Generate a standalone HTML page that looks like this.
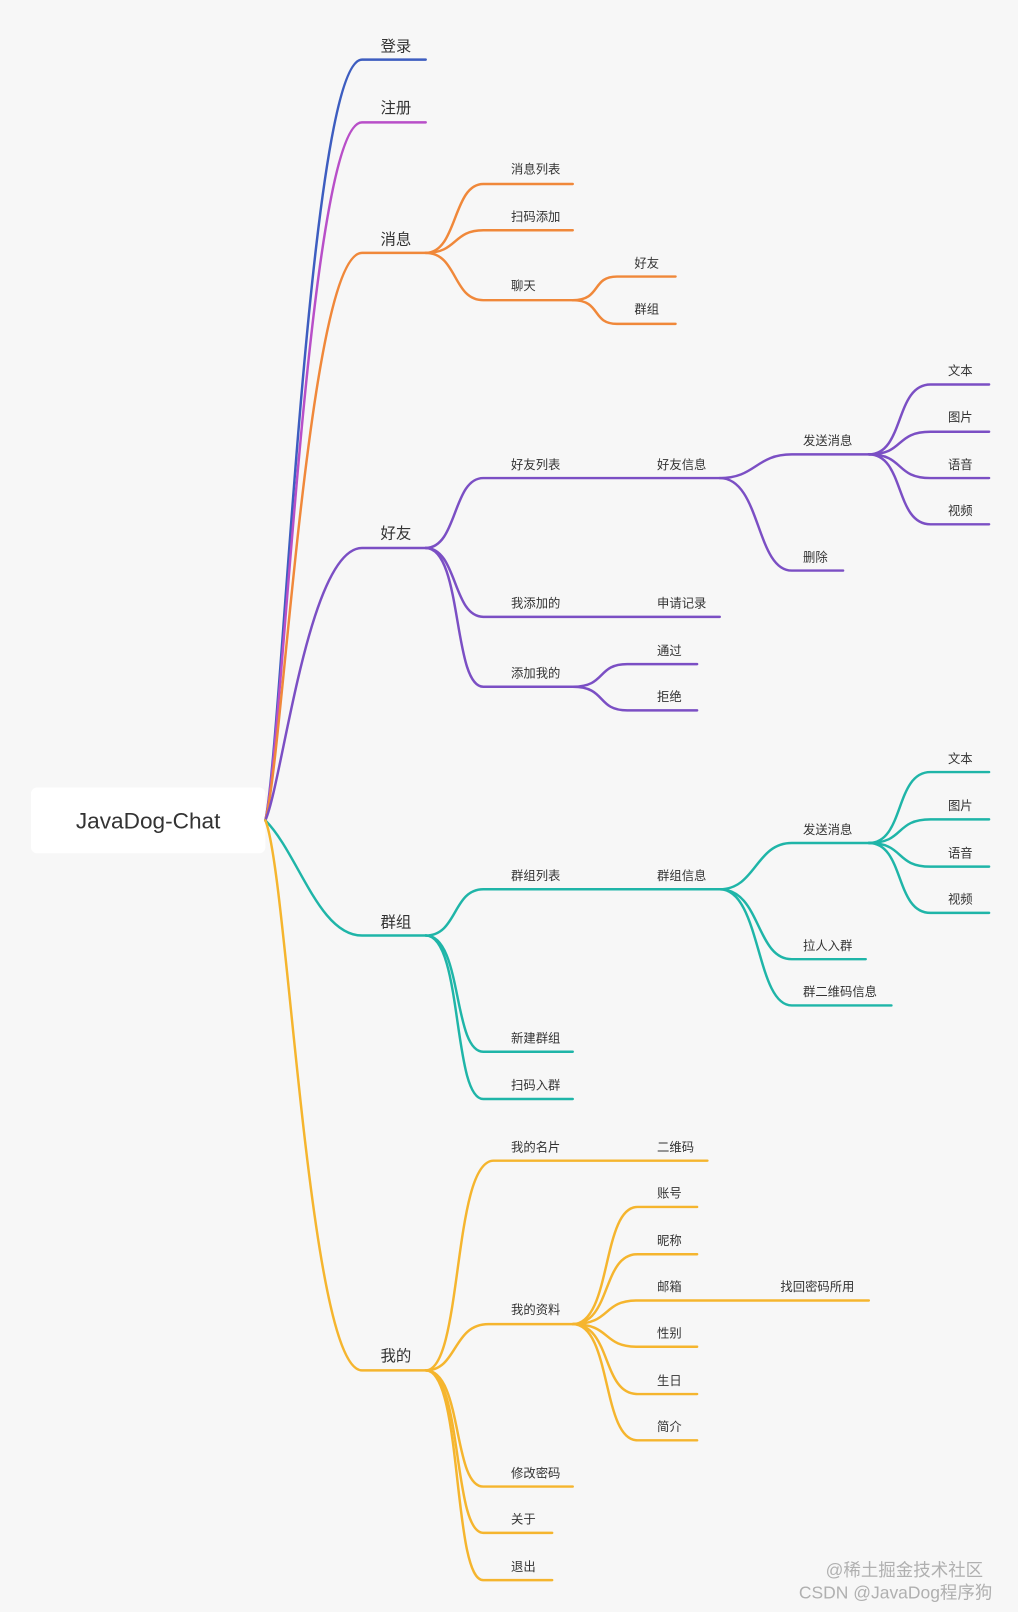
<!DOCTYPE html>
<html><head><meta charset="utf-8"><style>
html,body{margin:0;padding:0;background:#f7f7f7;}
svg{display:block}
text{font-family:"Liberation Sans","Noto Sans CJK SC",sans-serif;fill:#333;}
.s{font-size:12px}.m{font-size:15px}
path{fill:none;stroke-width:2.4;stroke-linecap:round}
.o path{stroke:#f0883a}.p path{stroke:#7b4fc4}.t path{stroke:#1fb5a8}.y path{stroke:#f5b52e}
</style></head><body>
<svg width="1018" height="1612" viewBox="0 0 990 1568" xmlns="http://www.w3.org/2000/svg">
<rect width="990" height="1568" fill="#f7f7f7"/>
<rect x="30" y="766" width="228" height="64" rx="6" fill="#fff"/>
<text x="144" y="806" text-anchor="middle" style="font-size:22px">JavaDog-Chat</text>

<!-- root curves -->
<path d="M258 798 C275 720 300 58 352 58 H414" stroke="#3d5dc0"/>
<path d="M258 798 C275 728 300 119 352 119 H414" stroke="#b84fc8"/>
<path d="M258 798 C275 740 300 246 352 246 H414" stroke="#f0883a"/>
<path d="M258 798 C275 760 300 533 352 533 H414" stroke="#7b4fc4"/>
<path d="M258 798 C290 830 310 910 352 910 H414" stroke="#1fb5a8"/>
<path d="M258 798 C280 850 300 1333 352 1333 H414" stroke="#f5b52e"/>
<text class="m" x="370" y="50">登录</text>
<text class="m" x="370" y="110">注册</text>
<text class="m" x="370" y="238">消息</text>
<text class="m" x="370" y="524">好友</text>
<text class="m" x="370" y="902">群组</text>
<text class="m" x="370" y="1324">我的</text>

<g class="o">
<path d="M414 246 C445 246 440 179 470 179 H557"/>
<path d="M414 246 C445 246 440 224 470 224 H557"/>
<path d="M414 246 C445 246 440 292 470 292 H557"/>
<path d="M557 292 C585 292 575 269 600 269 H657"/>
<path d="M557 292 C585 292 575 315 600 315 H657"/>
</g>
<text class="s" x="497" y="169">消息列表</text>
<text class="s" x="497" y="215">扫码添加</text>
<text class="s" x="497" y="282">聊天</text>
<text class="s" x="617" y="260">好友</text>
<text class="s" x="617" y="305">群组</text>

<g class="p">
<path d="M414 533 C445 533 440 465 470 465 H700"/>
<path d="M414 533 C445 533 440 600 470 600 H700"/>
<path d="M414 533 C450 533 440 668 470 668 H557"/>
<path d="M557 668 C590 668 580 646 610 646 H678"/>
<path d="M557 668 C590 668 580 691 610 691 H678"/>
<path d="M700 465 C735 465 735 442 770 442 H845"/>
<path d="M700 465 C740 465 735 555 770 555 H820"/>
<path d="M845 442 C880 442 870 374 905 374 H962"/>
<path d="M845 442 C880 442 870 420 905 420 H962"/>
<path d="M845 442 C880 442 870 465 905 465 H962"/>
<path d="M845 442 C880 442 870 510 905 510 H962"/>
</g>
<text class="s" x="497" y="456">好友列表</text>
<text class="s" x="639" y="456">好友信息</text>
<text class="s" x="781" y="433">发送消息</text>
<text class="s" x="781" y="546">删除</text>
<text class="s" x="922" y="365">文本</text>
<text class="s" x="922" y="410">图片</text>
<text class="s" x="922" y="456">语音</text>
<text class="s" x="922" y="501">视频</text>
<text class="s" x="497" y="591">我添加的</text>
<text class="s" x="639" y="591">申请记录</text>
<text class="s" x="497" y="659">添加我的</text>
<text class="s" x="639" y="637">通过</text>
<text class="s" x="639" y="682">拒绝</text>

<g class="t">
<path d="M414 910 C445 910 440 865 470 865 H700"/>
<path d="M414 910 C450 910 440 1023 470 1023 H557"/>
<path d="M414 910 C450 910 440 1069 470 1069 H557"/>
<path d="M700 865 C735 865 735 820 770 820 H845"/>
<path d="M700 865 C740 865 735 933 770 933 H842"/>
<path d="M700 865 C740 865 735 978 770 978 H867"/>
<path d="M845 820 C880 820 870 751 905 751 H962"/>
<path d="M845 820 C880 820 870 797 905 797 H962"/>
<path d="M845 820 C880 820 870 843 905 843 H962"/>
<path d="M845 820 C880 820 870 888 905 888 H962"/>
</g>
<text class="s" x="497" y="856">群组列表</text>
<text class="s" x="639" y="856">群组信息</text>
<text class="s" x="781" y="811">发送消息</text>
<text class="s" x="781" y="924">拉人入群</text>
<text class="s" x="781" y="969">群二维码信息</text>
<text class="s" x="922" y="742">文本</text>
<text class="s" x="922" y="788">图片</text>
<text class="s" x="922" y="834">语音</text>
<text class="s" x="922" y="879">视频</text>
<text class="s" x="497" y="1014">新建群组</text>
<text class="s" x="497" y="1060">扫码入群</text>

<g class="y">
<path d="M414 1333 C450 1333 440 1129 480 1129 H688"/>
<path d="M414 1333 C445 1333 440 1288 475 1288 H557"/>
<path d="M414 1333 C450 1333 440 1446 470 1446 H557"/>
<path d="M414 1333 C450 1333 440 1491 470 1491 H537"/>
<path d="M414 1333 C450 1333 440 1537 470 1537 H537"/>
<path d="M557 1288 C595 1288 585 1174 620 1174 H678"/>
<path d="M557 1288 C595 1288 585 1220 620 1220 H678"/>
<path d="M557 1288 C595 1288 585 1265 620 1265 H845"/>
<path d="M557 1288 C595 1288 585 1310 620 1310 H678"/>
<path d="M557 1288 C595 1288 585 1356 620 1356 H678"/>
<path d="M557 1288 C595 1288 585 1401 620 1401 H678"/>
</g>
<text class="s" x="497" y="1120">我的名片</text>
<text class="s" x="639" y="1120">二维码</text>
<text class="s" x="497" y="1278">我的资料</text>
<text class="s" x="639" y="1165">账号</text>
<text class="s" x="639" y="1211">昵称</text>
<text class="s" x="639" y="1256">邮箱</text>
<text class="s" x="759" y="1256">找回密码所用</text>
<text class="s" x="639" y="1301">性别</text>
<text class="s" x="639" y="1347">生日</text>
<text class="s" x="639" y="1392">简介</text>
<text class="s" x="497" y="1437">修改密码</text>
<text class="s" x="497" y="1482">关于</text>
<text class="s" x="497" y="1528">退出</text>

<text x="803" y="1533" style="font-size:17px;fill:#b0b0b0">@稀土掘金技术社区</text>
<text x="777" y="1555" style="font-size:17px;fill:#b0b0b0">CSDN @JavaDog程序狗</text>
</svg>
</body></html>
